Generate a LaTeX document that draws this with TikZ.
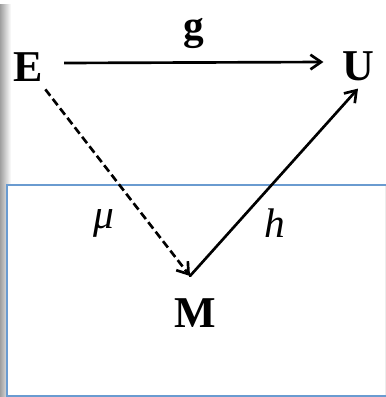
\documentclass[tikz,border=0pt]{standalone}
\usepackage{fontspec}
\setmainfont{Liberation Serif}
\usepackage{xcolor}
\usetikzlibrary{arrows.meta,positioning,calc}

\definecolor{panelblue}{HTML}{6A9BD0}

\begin{document}
\begin{tikzpicture}[x=0.75pt, y=-0.75pt,
  obj/.style={font=\fontsize{33}{38}\selectfont\bfseries, inner sep=0pt, outer sep=6pt},
  lab/.style={font=\fontsize{31}{36}\selectfont},
  mlab/.style={font=\fontsize{31}{36}\selectfont\itshape},
  arr/.style={-{Straight Barb[length=8pt,width=11pt]}, line width=2pt},
  dasharr/.style={arr, dash pattern=on 6pt off 3pt},
]
\useasboundingbox (0,0) rectangle (386,397);
% background panel
\shade[left color=gray!75, right color=white] (0,4) rectangle (11,397);
\fill[white] (7,185) rectangle (386,397);
\draw[gray!15] (385,186) -- (385,396);
\draw[panelblue, line width=1.5pt] (386,185) -- (7,185) -- (7,396) -- (386,396);

\node[obj] (E) at (28,67) {E};
\node[obj] (U) at (358,66) {U};
\node[obj] (M) at (195,313) {M};
\coordinate (mtop) at (190,276);

\draw[arr] ([xshift=10pt,yshift=3pt]E.east) -- node[lab, above=6pt]{\textbf{g}} ([xshift=-8pt,yshift=3pt]U.west);
\draw[dasharr] (E) -- node[mlab, pos=0.72, left=22pt]{μ} (mtop);
\draw[arr, line cap=round] (mtop) -- node[mlab, pos=0.28, right=16pt]{h} (U.south);
\end{tikzpicture}
\end{document}
